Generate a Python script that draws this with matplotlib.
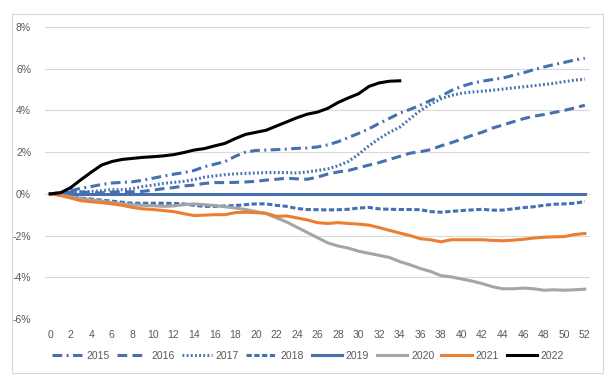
import matplotlib
matplotlib.use("Agg")
import matplotlib.pyplot as plt
from matplotlib.patches import Rectangle
import numpy as np

weeks = np.arange(0, 53)

y2015 = [0, 0.05, 0.15, 0.27, 0.35, 0.45, 0.52, 0.55, 0.58, 0.65, 0.75, 0.85, 0.94, 1.02, 1.12,
         1.3, 1.42, 1.55, 1.8, 2.0, 2.08, 2.1, 2.12, 2.15, 2.18, 2.2, 2.25, 2.35, 2.5, 2.7, 2.9,
         3.12, 3.38, 3.62, 3.87, 4.05, 4.25, 4.48, 4.68, 4.95, 5.15, 5.3, 5.4, 5.48, 5.55, 5.68,
         5.8, 5.95, 6.08, 6.2, 6.3, 6.42, 6.5]
y2016 = [0, 0.05, 0.08, 0.1, 0.05, 0.05, 0.08, 0.1, 0.1, 0.12, 0.18, 0.25, 0.3, 0.38, 0.42, 0.5,
         0.54, 0.54, 0.55, 0.57, 0.6, 0.66, 0.7, 0.75, 0.72, 0.7, 0.8, 0.95, 1.05, 1.12, 1.25, 1.38,
         1.5, 1.65, 1.8, 1.95, 2.02, 2.12, 2.3, 2.45, 2.62, 2.8, 2.95, 3.15, 3.3, 3.45, 3.6, 3.72,
         3.8, 3.9, 4.0, 4.12, 4.25]
y2017 = [0, 0.02, 0.05, 0.08, 0.12, 0.15, 0.2, 0.2, 0.25, 0.35, 0.42, 0.5, 0.55, 0.6, 0.68, 0.8,
         0.86, 0.92, 0.96, 0.98, 1.0, 1.02, 1.02, 1.02, 1.0, 1.05, 1.12, 1.2, 1.35, 1.55, 1.9, 2.3,
         2.65, 2.95, 3.2, 3.6, 4.0, 4.3, 4.55, 4.72, 4.82, 4.88, 4.92, 4.97, 5.02, 5.08, 5.13, 5.18,
         5.24, 5.3, 5.38, 5.45, 5.5]
y2018 = [0, -0.05, -0.12, -0.2, -0.25, -0.3, -0.35, -0.4, -0.45, -0.45, -0.45, -0.45, -0.46,
         -0.48, -0.55, -0.6, -0.6, -0.58, -0.56, -0.52, -0.48, -0.48, -0.55, -0.6, -0.7, -0.75,
         -0.76, -0.77, -0.76, -0.74, -0.68, -0.65, -0.72, -0.74, -0.75, -0.75, -0.76, -0.85, -0.88,
         -0.84, -0.8, -0.77, -0.74, -0.78, -0.78, -0.72, -0.66, -0.62, -0.55, -0.5, -0.48, -0.45,
         -0.37]
y2019 = [0] * 53
y2020 = [0, -0.05, -0.15, -0.22, -0.3, -0.35, -0.42, -0.48, -0.52, -0.55, -0.57, -0.6, -0.58,
         -0.52, -0.48, -0.52, -0.56, -0.62, -0.68, -0.75, -0.85, -0.95, -1.15, -1.35, -1.6, -1.85,
         -2.1, -2.35, -2.5, -2.6, -2.75, -2.85, -2.95, -3.05, -3.25, -3.4, -3.58, -3.72, -3.92,
         -3.98, -4.08, -4.18, -4.3, -4.45, -4.55, -4.55, -4.52, -4.55, -4.62, -4.6, -4.62, -4.6,
         -4.57]
y2021 = [0, -0.08, -0.2, -0.33, -0.38, -0.42, -0.48, -0.55, -0.65, -0.72, -0.75, -0.8, -0.85,
         -0.95, -1.04, -1.02, -1.0, -1.0, -0.9, -0.88, -0.9, -0.93, -1.08, -1.06, -1.15, -1.25,
         -1.38, -1.42, -1.38, -1.42, -1.45, -1.5, -1.62, -1.75, -1.88, -2.0, -2.15, -2.2, -2.3,
         -2.2, -2.2, -2.2, -2.2, -2.23, -2.25, -2.22, -2.18, -2.12, -2.08, -2.06, -2.05, -1.95,
         -1.9]
y2022 = [0, 0.05, 0.3, 0.68, 1.04, 1.38, 1.55, 1.65, 1.7, 1.75, 1.78, 1.82, 1.88, 1.98, 2.1, 2.17,
         2.3, 2.42, 2.65, 2.85, 2.95, 3.05, 3.25, 3.45, 3.65, 3.82, 3.92, 4.1, 4.38, 4.6, 4.8, 5.15,
         5.32, 5.4, 5.42]

BLUE = "#4670b0"
plt.rcParams["lines.scale_dashes"] = False
plt.rcParams["font.family"] = "Liberation Sans"

fig = plt.figure(figsize=(6.15, 3.87), dpi=100)
ax = fig.add_axes([45 / 615, 1 - 319 / 387, 545 / 615, 292 / 387])

lw = 2.2
ax.plot(weeks, y2015, color=BLUE, lw=lw, dashes=(7, 3.2, 1.4, 3.2), dash_capstyle="butt", label="2015")
ax.plot(weeks, y2016, color=BLUE, lw=lw, dashes=(7, 3.8), dash_capstyle="butt", label="2016")
ax.plot(weeks, y2017, color=BLUE, lw=lw, dashes=(1.3, 1.7), dash_capstyle="butt", label="2017")
ax.plot(weeks, y2018, color=BLUE, lw=lw, dashes=(3.8, 1.8), dash_capstyle="butt", label="2018")
ax.plot(weeks, y2019, color=BLUE, lw=lw, label="2019")
ax.plot(weeks, y2020, color="#a5a5a5", lw=lw, label="2020")
ax.plot(weeks, y2021, color="#ed7d31", lw=lw, label="2021")
ax.plot(weeks[:len(y2022)], y2022, color="black", lw=lw, label="2022")

ax.set_xlim(-0.5, 52.5)
ax.set_ylim(-6, 8)
ax.set_yticks(np.arange(-6, 9, 2))
ax.set_yticklabels([f"{v}%" for v in range(-6, 9, 2)])
ax.set_xticks(np.arange(0, 53, 2))
ax.grid(axis="y", color="#d9d9d9", lw=0.8)
ax.set_axisbelow(True)
for s in ax.spines.values():
    s.set_visible(False)
ax.tick_params(length=0, labelsize=7.5, labelcolor="#595959")
ax.tick_params(axis="y", pad=10)
ax.tick_params(axis="x", pad=8)

fig.legend(loc="center", bbox_to_anchor=(308 / 615, 1 - 356 / 387), ncol=8, frameon=False,
           fontsize=7.5, labelcolor="#595959", handlelength=2.9, handletextpad=0.4,
           columnspacing=0.7)

fig.patches.append(Rectangle((12 / 615, 1 - 373 / 387), 591 / 615, 359 / 387,
                             transform=fig.transFigure, fill=False, edgecolor="#d9d9d9", lw=0.8))

fig.savefig("out.png", dpi=100)
